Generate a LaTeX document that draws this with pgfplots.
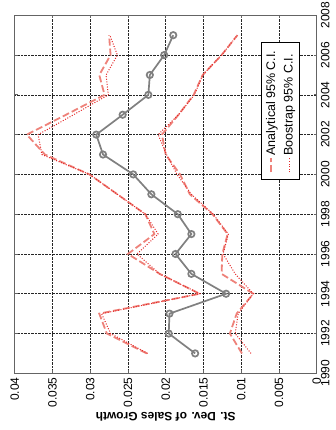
\documentclass[border=0pt]{standalone}
\usepackage{pgfplots}
\pgfplotsset{compat=1.18}
\usepackage{fontspec}
\setmainfont{Liberation Sans}

\definecolor{meanline}{RGB}{128,128,128}
\definecolor{anaci}{RGB}{238,130,122}
\definecolor{bootci}{RGB}{228,40,40}
\definecolor{frame}{RGB}{100,100,100}

\begin{document}
\fontsize{12}{14}\selectfont
\begin{tikzpicture}
\begin{scope}[rotate=90,transform shape]
\begin{axis}[
  scale only axis,
  width=358pt, height=302pt,
  xmin=1990, xmax=2008,
  ymin=0, ymax=0.04,
  scaled y ticks=false,
  xtick={1990,1992,1994,1996,1998,2000,2002,2004,2006,2008},
  xticklabels={1990,1992,1994,1996,1998,2000,2002,2004,2006,2008},
  ytick={0,0.005,0.01,0.015,0.02,0.025,0.03,0.035,0.04},
  yticklabels={0,0.005,0.01,0.015,0.02,0.025,0.03,0.035,0.04},
  ticklabel style={font=\fontsize{12}{14}\selectfont},
  grid=major,
  grid style={black!85, densely dotted, line width=0.6pt},
  axis line style={draw=frame, line width=1.4pt},
  tick style={draw=frame, line width=0.8pt},
  major tick length=3pt,
  ylabel={\bfseries St. Dev. of Sales Growth},
  ylabel style={at={(axis description cs:-0.122,0.5)}, anchor=center,
                font=\fontsize{12}{14}\selectfont},
  legend style={at={(0.925,0.056)}, anchor=south east,
                draw=black, line width=0.9pt, fill=white,
                font=\fontsize{12.5}{14}\selectfont,
                row sep=3pt, inner xsep=6pt, inner ysep=3pt},
  legend cell align=left,
  legend image code/.code={\draw[#1] (0pt,0pt) -- (14pt,0pt);},
]
% analytical interval, upper bound
\addplot[anaci, line width=1.8pt, dash pattern=on 7pt off 3pt] coordinates {
  (1991,0.0225) (1992,0.0278) (1993,0.0288) (1994,0.0155) (1995,0.0208)
  (1996,0.0250) (1997,0.0215) (1998,0.0227) (1999,0.0264) (2000,0.0301)
  (2001,0.0360) (2002,0.0384) (2003,0.0332) (2004,0.0281) (2005,0.0288)
  (2006,0.0273) (2007,0.0275)};
\addlegendentry{Analytical 95\% C.I.}
% bootstrap interval, upper bound
\addplot[bootci, line width=1pt, dash pattern=on 1pt off 1.6pt] coordinates {
  (1991,0.0224) (1992,0.0273) (1993,0.0285) (1994,0.0155) (1995,0.0208)
  (1996,0.0238) (1997,0.0210) (1998,0.0227) (1999,0.0264) (2000,0.0301)
  (2001,0.0364) (2002,0.0369) (2003,0.0322) (2004,0.0276) (2005,0.0279)
  (2006,0.0264) (2007,0.0274)};
\addlegendentry{Boostrap 95\% C.I.}
% lower bounds
\addplot[anaci, line width=1.8pt, dash pattern=on 7pt off 3pt, forget plot] coordinates {
  (1991,0.0099) (1992,0.0115) (1993,0.0106) (1994,0.0084) (1995,0.0126)
  (1996,0.0125) (1997,0.0118) (1998,0.0138) (1999,0.0168) (2000,0.0181)
  (2001,0.0200) (2002,0.0205) (2003,0.0183) (2004,0.0163) (2005,0.0151)
  (2006,0.0126) (2007,0.0105)};
\addplot[bootci, line width=1pt, dash pattern=on 1pt off 1.6pt, forget plot] coordinates {
  (1991,0.0087) (1992,0.0108) (1993,0.0104) (1994,0.0084) (1995,0.0108)
  (1996,0.0124) (1997,0.0117) (1998,0.0137) (1999,0.0166) (2000,0.0185)
  (2001,0.0199) (2002,0.0210) (2003,0.0183) (2004,0.0162) (2005,0.0151)
  (2006,0.0126) (2007,0.0105)};
% yearly cross-sectional dispersion
\addplot[meanline, line width=1.7pt, mark=o, mark size=3.2pt,
         mark options={solid, line width=1.7pt}, forget plot] coordinates {
  (1991,0.0161) (1992,0.0196) (1993,0.0195) (1994,0.0120) (1995,0.0166)
  (1996,0.0187) (1997,0.0166) (1998,0.0184) (1999,0.0219) (2000,0.0243)
  (2001,0.0283) (2002,0.0292) (2003,0.0257) (2004,0.0223) (2005,0.0221)
  (2006,0.0202) (2007,0.0190)};
\end{axis}
\end{scope}
\pgfresetboundingbox
\path[rotate=90] (-56.7pt,-19.3pt) rectangle (373.3pt,316.7pt);
\end{tikzpicture}
\end{document}
